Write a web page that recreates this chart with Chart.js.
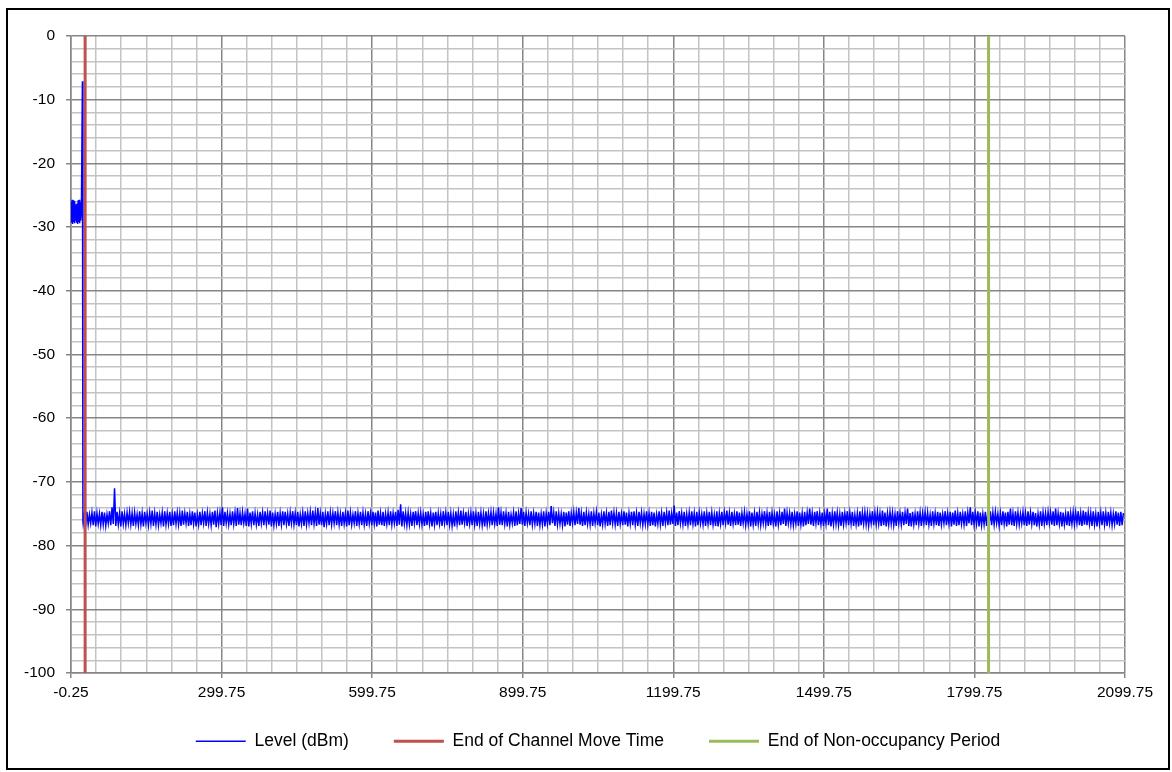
<!DOCTYPE html>
<html>
<head>
<meta charset="utf-8">
<script src="https://cdn.jsdelivr.net/npm/chart.js@4.4.1/dist/chart.umd.min.js"></script>
<style>
  body { margin: 0; background: #fff; }
  #wrap { position: relative; width: 1172px; height: 772px; }
  #frame { position: absolute; left: 6px; top: 8px; width: 1164px; height: 762px; border: 2px solid #000; box-sizing: border-box; pointer-events: none; }
  canvas { position: absolute; left: 0; top: 0; }
</style>
</head>
<body>
<div id="wrap">
  <canvas id="levelChart" width="1172" height="772"></canvas>
  <div id="frame"></div>
</div>
<script>
// first part of the trace (before the channel is vacated)
const startTime = [-0.25, 1, 2, 3, 4, 5, 6, 7, 8, 9, 10, 11, 12, 13, 14, 15, 16, 17, 18, 19, 20.5, 22.5, 23.5];
const startLevel = [-26.0, -29.3, -25.7, -29.5, -25.8, -29.2, -25.9, -29.4, -26.4, -29.0, -26.7, -29.3, -26.3, -29.5, -25.8, -29.2, -25.7, -29.4, -26.1, -29.0, -27.5, -7.1, -76.2];

// noise floor after the move: one trough and one peak every 5 s
const noiseLowStart = 24;
const noiseHighStart = 26.5;
const noiseStep = 5;
const noiseHigh = [
  -75.0,-74.7,-75.1,-74.8,-74.6,-74.9,-75.0,-74.7,-74.8,-75.1,-74.6,-74.0,-71.0,-74.7,-74.9,-74.6,-75.0,-74.8,-74.7,-74.9,
  -74.8,-75.1,-74.6,-74.9,-74.7,-75.0,-74.8,-74.5,-74.9,-74.7,-75.1,-74.8,-74.6,-74.9,-74.7,-75.0,-74.6,-74.8,-74.9,-74.5,
  -74.9,-74.7,-75.0,-74.6,-74.8,-75.1,-74.7,-74.9,-74.6,-74.8,-75.0,-74.7,-74.5,-74.9,-74.8,-74.0,-74.7,-74.9,-75.0,-74.6,
  -74.8,-74.1,-74.9,-74.7,-75.0,-74.2,-74.8,-74.6,-74.9,-75.1,-74.7,-74.8,-74.6,-74.9,-74.5,-74.8,-75.0,-74.7,-74.9,-74.6,
  -74.7,-75.0,-74.8,-74.6,-74.9,-74.7,-75.1,-74.8,-74.6,-74.9,-74.7,-74.5,-74.8,-74.1,-74.9,-74.7,-75.0,-74.6,-74.8,-74.9,
  -74.6,-74.8,-75.0,-74.7,-74.9,-74.5,-74.8,-75.1,-74.6,-74.9,-74.7,-74.8,-75.0,-74.6,-74.9,-74.7,-74.8,-74.5,-74.9,-74.7,
  -75.0,-74.8,-74.6,-74.9,-74.7,-74.4,-73.5,-74.6,-74.9,-74.8,-75.0,-74.7,-74.6,-74.9,-74.8,-75.1,-74.7,-74.6,-74.9,-74.8,
  -74.7,-74.9,-75.0,-74.6,-74.8,-74.7,-74.9,-75.1,-74.6,-74.8,-74.5,-74.9,-74.7,-75.0,-74.8,-74.6,-74.9,-74.7,-74.8,-75.0,
  -74.6,-74.9,-74.7,-74.8,-75.0,-74.0,-74.8,-74.6,-74.9,-74.7,-75.1,-74.8,-74.6,-74.9,-74.1,-74.7,-74.8,-75.0,-74.6,-74.9,
  -74.7,-74.8,-75.0,-74.6,-74.9,-74.7,-73.8,-74.8,-74.6,-74.9,-75.0,-74.7,-74.8,-74.6,-74.9,-74.7,-74.8,-74.1,-74.9,-74.7,
  -74.8,-75.0,-74.6,-74.9,-74.7,-74.8,-75.1,-74.6,-74.9,-74.7,-74.5,-74.8,-74.9,-74.7,-75.0,-74.6,-74.8,-74.9,-74.7,-74.6,
  -74.9,-74.7,-74.8,-75.0,-74.6,-74.9,-74.7,-74.8,-75.1,-74.6,-74.9,-74.7,-74.8,-74.5,-74.9,-73.7,-74.8,-74.6,-74.9,-74.7,
  -75.0,-74.8,-74.6,-74.9,-74.7,-74.8,-75.0,-74.6,-74.9,-74.7,-74.8,-75.1,-74.6,-74.9,-74.7,-74.8,-74.5,-74.9,-74.7,-75.0,
  -74.6,-74.8,-74.9,-74.7,-75.0,-74.6,-74.8,-74.9,-74.7,-74.8,-75.0,-74.6,-74.9,-74.7,-74.8,-75.1,-74.6,-74.9,-74.7,-74.2,
  -74.8,-74.9,-74.7,-75.0,-74.6,-74.8,-74.9,-74.7,-74.8,-74.2,-74.9,-74.7,-74.6,-74.9,-74.8,-75.0,-74.2,-74.7,-74.9,-74.6,
  -74.8,-75.0,-74.7,-74.9,-74.6,-74.8,-74.7,-75.1,-74.9,-74.6,-74.8,-74.7,-74.9,-75.0,-74.6,-74.8,-74.7,-74.9,-74.5,-74.8,
  -74.9,-74.7,-74.8,-75.0,-74.6,-74.9,-74.7,-74.8,-74.2,-74.9,-74.7,-75.0,-74.6,-74.8,-74.9,-74.7,-74.8,-75.1,-74.6,-74.9,
  -74.7,-74.8,-75.0,-74.6,-74.9,-74.7,-74.8,-74.5,-74.9,-74.7,-75.0,-74.6,-74.8,-74.0,-74.7,-74.9,-74.6,-74.8,-75.0,-74.7,
  -74.9,-74.6,-74.8,-74.7,-75.0,-74.9,-74.6,-74.8,-74.7,-74.2,-74.9,-74.6,-74.8,-75.0,-74.7,-74.9,-74.6,-74.8,-74.7,-74.9,
  -75.0,-74.6,-74.8,-74.9,-74.7,-74.8,-74.6,-74.2,-74.9,-74.7,-74.8,-75.0,-74.6,-74.9,-74.7,-74.8,-74.6,-74.9,-74.5,-74.7,
  -74.8,-74.9,-74.6,-75.0,-74.7,-74.8,-74.6,-74.9,-74.7,-74.8,-75.0,-74.6,-74.8,-74.7,-74.9
];
const noiseLow = [
  -76.6,-76.9,-76.7,-76.5,-76.8,-77.0,-76.6,-76.8,-76.7,-76.9,-76.5,-76.8,-76.6,-76.9,-76.7,-77.0,-76.6,-76.8,-76.5,-76.7,
  -76.9,-76.6,-76.8,-76.7,-77.0,-76.5,-76.8,-76.6,-76.9,-76.7,-76.8,-76.5,-77.0,-76.7,-76.6,-76.9,-76.8,-76.6,-76.7,-76.9,
  -76.7,-76.5,-76.9,-76.8,-76.6,-77.0,-76.7,-76.8,-76.5,-76.9,-76.6,-76.8,-76.7,-77.1,-76.6,-76.8,-76.9,-76.5,-76.7,-76.8,
  -76.6,-76.9,-76.7,-76.8,-76.5,-76.9,-77.0,-76.6,-76.8,-76.7,-76.9,-76.5,-76.8,-76.6,-76.7,-77.0,-76.8,-76.6,-76.9,-76.7,
  -76.8,-76.6,-76.9,-76.5,-76.7,-76.8,-77.0,-76.6,-76.9,-76.7,-76.5,-76.8,-76.6,-76.9,-76.7,-76.8,-77.1,-76.6,-76.8,-76.7,
  -76.5,-76.8,-76.7,-76.9,-76.6,-77.0,-76.8,-76.7,-76.5,-76.9,-76.6,-76.8,-76.7,-76.9,-76.5,-76.8,-76.6,-77.0,-76.7,-76.8,
  -76.9,-76.6,-76.8,-76.7,-76.5,-76.9,-76.7,-77.0,-76.6,-76.8,-76.7,-76.9,-76.5,-76.8,-76.6,-76.7,-76.9,-76.8,-76.6,-77.0,
  -76.7,-76.8,-76.6,-76.9,-76.5,-76.8,-76.7,-76.9,-77.0,-76.6,-76.8,-76.7,-76.5,-76.9,-76.6,-76.8,-76.7,-76.9,-76.6,-76.8,
  -77.0,-76.7,-76.5,-76.8,-76.6,-76.9,-76.7,-76.8,-76.6,-77.0,-76.7,-76.5,-76.9,-76.8,-76.6,-76.7,-76.9,-76.5,-76.8,-76.7,
  -76.6,-76.9,-76.8,-76.7,-77.0,-76.6,-76.8,-76.5,-76.9,-76.7,-76.6,-76.8,-77.0,-76.7,-76.9,-76.5,-76.8,-76.6,-76.7,-76.9,
  -76.8,-76.6,-76.7,-76.9,-76.5,-76.8,-77.0,-76.7,-76.6,-76.9,-76.8,-76.5,-76.7,-76.9,-76.6,-76.8,-76.7,-77.0,-76.6,-76.8,
  -76.7,-76.9,-76.5,-76.8,-76.6,-76.7,-76.9,-76.8,-77.0,-76.6,-76.7,-76.9,-76.5,-76.8,-76.7,-76.6,-76.9,-76.8,-76.5,-76.7,
  -76.9,-76.7,-76.8,-76.6,-77.0,-76.8,-76.5,-76.7,-76.9,-76.6,-76.8,-76.7,-76.9,-77.0,-76.6,-76.8,-76.5,-76.7,-76.9,-76.6,
  -76.8,-76.7,-76.9,-76.5,-76.8,-76.6,-77.0,-76.7,-76.9,-76.6,-76.8,-76.5,-76.7,-76.9,-76.8,-76.6,-77.0,-76.7,-76.8,-76.6,
  -76.9,-76.5,-76.7,-76.8,-76.6,-76.9,-76.7,-77.0,-76.8,-76.6,-76.7,-76.9,-76.5,-76.8,-76.7,-76.9,-76.6,-76.8,-77.0,-76.7,
  -76.6,-76.8,-76.9,-76.7,-76.5,-76.8,-76.6,-76.9,-76.7,-77.0,-76.8,-76.6,-76.7,-76.9,-76.5,-76.8,-76.7,-76.6,-76.9,-76.8,
  -77.0,-76.7,-76.6,-76.8,-76.9,-76.5,-76.7,-76.8,-76.6,-76.9,-77.0,-76.7,-76.8,-76.6,-76.9,-76.5,-76.8,-76.7,-76.9,-76.6,
  -76.8,-76.9,-76.7,-76.5,-76.8,-76.6,-77.0,-76.7,-76.9,-76.8,-76.6,-76.7,-76.9,-76.5,-76.8,-76.7,-76.6,-77.0,-76.8,-76.7,
  -76.9,-76.6,-76.8,-76.7,-76.5,-76.9,-76.8,-76.6,-77.0,-76.7,-76.8,-76.9,-76.6,-76.7,-76.5,-76.8,-76.9,-76.7,-76.6,-76.8,
  -77.0,-76.7,-76.9,-76.6,-76.8,-76.5,-76.7,-76.9,-76.8,-76.6,-77.0,-76.7,-76.8,-76.9,-76.6,-76.7,-76.5,-76.8,-76.9,-76.7,
  -76.8,-76.6,-76.9,-76.7,-77.0,-76.6,-76.8,-76.7,-76.9,-76.5,-76.8,-76.6,-76.7,-76.9,-76.8
];

const channelMoveTime = 27.9;
const nonOccupancyEnd = 1827.9;

const seriesNames = ['Level (dBm)', 'End of Channel Move Time', 'End of Non-occupancy Period'];
const xTickLabels = ['-0.25', '299.75', '599.75', '899.75', '1199.75', '1499.75', '1799.75', '2099.75'];
const yTickLabels = ['0', '-10', '-20', '-30', '-40', '-50', '-60', '-70', '-80', '-90', '-100'];

const levelPoints = startTime.map((t, i) => ({ x: t, y: startLevel[i] }));
noiseHigh.forEach((v, k) => {
  levelPoints.push({ x: noiseLowStart + k * noiseStep, y: noiseLow[k] });
  levelPoints.push({ x: noiseHighStart + k * noiseStep, y: v });
});

// grid every 50 s, label every 300 s
const xGrid = [];
for (let i = 0; i <= 42; i++) xGrid.push(-0.25 + 50 * i);

const majorGrid = '#868686';
const minorGrid = '#c3c3c3';

Chart.defaults.font.family = "'Liberation Sans', Arial, sans-serif";
Chart.defaults.font.size = 15.5;
Chart.defaults.color = '#000';

// legend needs wide gaps between items but must sit higher than its padding allows
const legendLift = {
  id: 'legendLift',
  afterLayout(chart) {
    chart.legend.top -= 12;
    chart.legend.bottom -= 12;
  }
};

new Chart(document.getElementById('levelChart'), {
  type: 'line',
  data: {
    datasets: [
      { label: seriesNames[0], data: levelPoints, borderColor: '#0000ff', borderWidth: 1.5, pointRadius: 0, pointStyle: 'line', order: 2 },
      { label: seriesNames[1], data: [{ x: channelMoveTime, y: 0 }, { x: channelMoveTime, y: -100 }], borderColor: '#c0504d', borderWidth: 3, pointRadius: 0, pointStyle: 'line', order: 1 },
      { label: seriesNames[2], data: [{ x: nonOccupancyEnd, y: 0 }, { x: nonOccupancyEnd, y: -100 }], borderColor: '#9bbb59', borderWidth: 3, pointRadius: 0, pointStyle: 'line', order: 0 }
    ]
  },
  plugins: [legendLift],
  options: {
    responsive: false,
    animation: false,
    events: [],
    layout: { padding: { left: 24, right: 0, top: 36, bottom: 0 } },
    plugins: {
      tooltip: { enabled: false },
      legend: {
        position: 'bottom',
        labels: {
          usePointStyle: true,
          pointStyleWidth: 50,
          padding: 45,
          color: '#000',
          font: { size: 17.5 },
          sort: (a, b) => a.datasetIndex - b.datasetIndex
        }
      }
    },
    scales: {
      x: {
        type: 'linear',
        min: -0.25,
        max: 2099.75,
        afterBuildTicks: (s) => { s.ticks = xGrid.map(v => ({ value: v })); },
        afterFit: (s) => { s.height = 26.5; },
        ticks: {
          autoSkip: false,
          maxRotation: 0,
          padding: 5,
          callback: (v, i) => (i % 6 === 0 ? xTickLabels[i / 6] : '')
        },
        grid: {
          color: (c) => (c.index % 6 === 0 ? majorGrid : minorGrid),
          lineWidth: 1.5,
          tickLength: 5,
          tickColor: (c) => (c.index % 6 === 0 ? majorGrid : 'rgba(0,0,0,0)')
        },
        border: { color: majorGrid, width: 1.5 }
      },
      y: {
        min: -100,
        max: 0,
        afterFit: (s) => { s.width = 47; },
        ticks: {
          stepSize: 2,
          autoSkip: false,
          padding: 11,
          callback: (v) => (Math.round(v) % 10 === 0 ? yTickLabels[Math.round(-v / 10)] : '')
        },
        grid: {
          color: (c) => (Math.round(c.tick.value) % 10 === 0 ? majorGrid : minorGrid),
          lineWidth: 1.5,
          tickLength: 5,
          tickColor: (c) => (Math.round(c.tick.value) % 10 === 0 ? majorGrid : 'rgba(0,0,0,0)')
        },
        border: { color: majorGrid, width: 1.5 }
      },
      y2: {
        position: 'right',
        min: -100,
        max: 0,
        afterFit: (s) => { s.width = 47; },
        ticks: { display: false },
        grid: { display: false, drawTicks: false },
        border: { display: false }
      }
    }
  }
});
</script>
</body>
</html>
